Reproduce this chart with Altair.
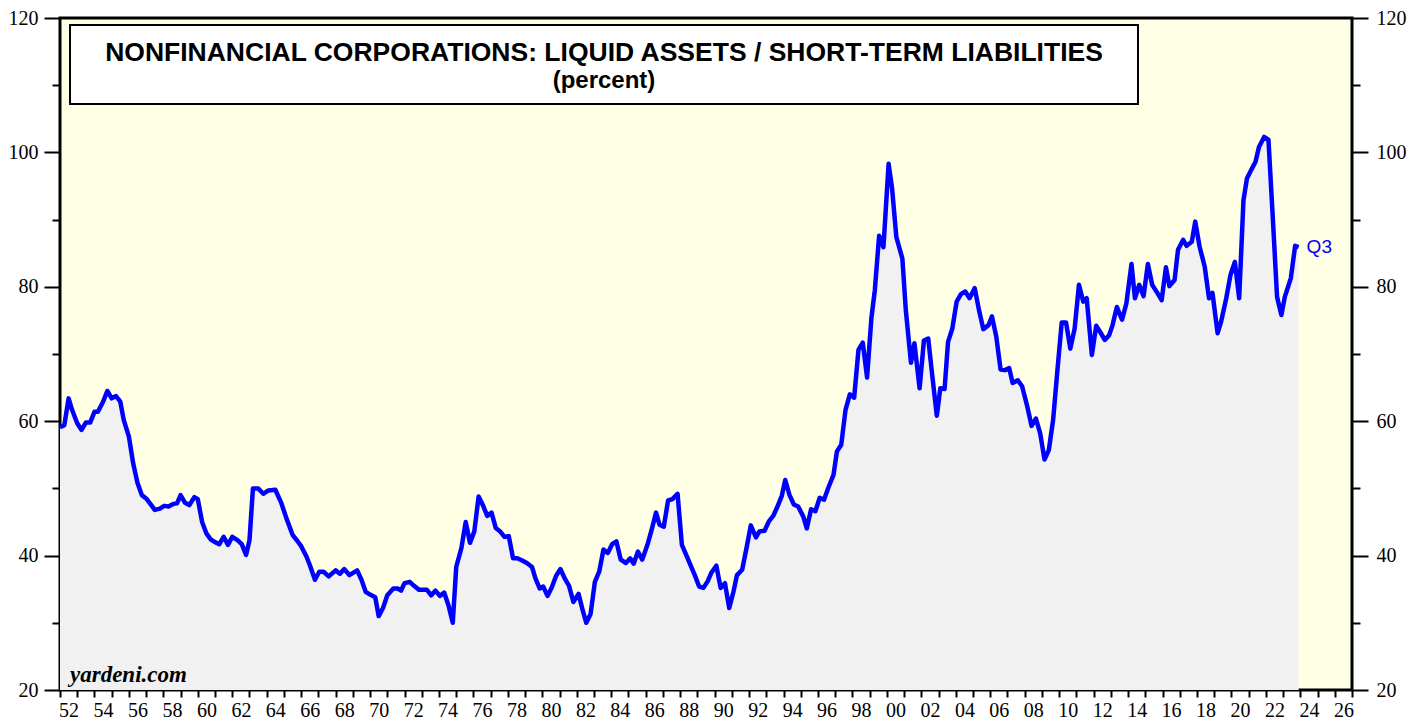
import altair as alt
import pandas as pd

years = [
    1952.0, 1952.25, 1952.5, 1952.7, 1953.0, 1953.25, 1953.5, 1953.75, 1954.0, 1954.2,
    1954.5, 1954.75, 1955.0, 1955.25, 1955.5, 1955.7, 1956.0, 1956.25, 1956.5, 1956.75,
    1957.0, 1957.3, 1957.5, 1957.8, 1958.05, 1958.3, 1958.6, 1958.8, 1959.0, 1959.25,
    1959.5, 1959.8, 1960.0, 1960.25, 1960.5, 1960.75, 1961.0, 1961.25, 1961.5, 1961.75,
    1962.0, 1962.3, 1962.55, 1962.8, 1963.0, 1963.2, 1963.5, 1963.8, 1964.1, 1964.5,
    1964.85, 1965.15, 1965.5, 1965.8, 1966.0, 1966.3, 1966.5, 1966.8, 1967.05, 1967.3,
    1967.6, 1968.0, 1968.25, 1968.5, 1968.8, 1969.25, 1969.5, 1969.75, 1970.0, 1970.3,
    1970.5, 1970.75, 1971.0, 1971.35, 1971.6, 1971.8, 1972.0, 1972.3, 1972.55, 1972.85,
    1973.3, 1973.55, 1973.8, 1974.05, 1974.3, 1974.55, 1974.8, 1975.0, 1975.3, 1975.55,
    1975.8, 1976.05, 1976.3, 1976.55, 1976.8, 1977.05, 1977.3, 1977.55, 1977.8, 1978.05,
    1978.3, 1978.55, 1978.8, 1979.1, 1979.4, 1979.6, 1979.85, 1980.05, 1980.3, 1980.55,
    1980.8, 1981.05, 1981.3, 1981.55, 1981.8, 1982.1, 1982.35, 1982.55, 1982.8, 1983.05,
    1983.3, 1983.55, 1983.8, 1984.05, 1984.3, 1984.55, 1984.85, 1985.1, 1985.3, 1985.55,
    1985.8, 1986.1, 1986.35, 1986.6, 1986.8, 1987.05, 1987.3, 1987.55, 1987.85, 1988.1,
    1988.4, 1988.65, 1988.85, 1989.1, 1989.35, 1989.6, 1989.8, 1990.1, 1990.35, 1990.6,
    1990.85, 1991.1, 1991.3, 1991.6, 1991.85, 1992.1, 1992.4, 1992.6, 1992.9, 1993.15,
    1993.4, 1993.65, 1993.9, 1994.1, 1994.35, 1994.6, 1994.85, 1995.15, 1995.35, 1995.6,
    1995.85, 1996.1, 1996.35, 1996.6, 1996.9, 1997.1, 1997.35, 1997.6, 1997.85, 1998.1,
    1998.35, 1998.6, 1998.85, 1999.1, 1999.3, 1999.55, 1999.8, 2000.1, 2000.3, 2000.55,
    2000.9, 2001.1, 2001.4, 2001.6, 2001.9, 2002.15, 2002.4, 2002.6, 2002.9, 2003.1,
    2003.35, 2003.55, 2003.8, 2004.05, 2004.3, 2004.55, 2004.8, 2005.1, 2005.35, 2005.6,
    2005.9, 2006.1, 2006.35, 2006.6, 2006.85, 2007.1, 2007.3, 2007.6, 2007.85, 2008.15,
    2008.4, 2008.65, 2008.9, 2009.15, 2009.4, 2009.65, 2009.9, 2010.15, 2010.4, 2010.65,
    2010.9, 2011.15, 2011.4, 2011.6, 2011.9, 2012.15, 2012.4, 2012.65, 2012.9, 2013.1,
    2013.35, 2013.65, 2013.9, 2014.2, 2014.4, 2014.65, 2014.9, 2015.15, 2015.4, 2015.7,
    2015.95, 2016.2, 2016.4, 2016.7, 2016.9, 2017.2, 2017.4, 2017.7, 2017.9, 2018.15,
    2018.45, 2018.7, 2018.9, 2019.2, 2019.4, 2019.7, 2019.95, 2020.2, 2020.45, 2020.7,
    2020.9, 2021.15, 2021.4, 2021.6, 2021.9, 2022.15, 2022.4, 2022.65, 2022.9, 2023.1,
    2023.45, 2023.7, 2023.9,
]
values = [
    59.1, 59.4, 63.4, 61.7, 59.7, 58.7, 59.8, 59.8, 61.4, 61.4,
    62.9, 64.5, 63.4, 63.75, 62.9, 60.2, 57.7, 53.7, 50.8, 49.0,
    48.5, 47.5, 46.8, 47.0, 47.4, 47.3, 47.7, 47.8, 49.0, 47.9,
    47.5, 48.7, 48.4, 45.0, 43.3, 42.4, 42.0, 41.7, 42.8, 41.6,
    42.8, 42.3, 41.7, 40.1, 42.3, 50.0, 50.0, 49.2, 49.7, 49.8,
    47.8, 45.5, 43.1, 42.1, 41.4, 39.9, 38.6, 36.4, 37.6, 37.6,
    36.9, 37.8, 37.3, 38.0, 37.1, 37.8, 36.4, 34.6, 34.2, 33.8,
    31.0, 32.2, 34.1, 35.1, 35.1, 34.8, 35.9, 36.1, 35.5, 34.9,
    34.9, 34.1, 34.8, 34.0, 34.5, 32.6, 30.0, 38.3, 41.1, 45.0,
    41.9, 43.6, 48.8, 47.5, 45.9, 46.4, 44.1, 43.6, 42.8, 42.9,
    39.6, 39.6, 39.3, 38.9, 38.3, 36.6, 35.1, 35.4, 34.0, 35.3,
    37.0, 38.0, 36.6, 35.5, 33.1, 34.3, 31.8, 30.0, 31.3, 36.1,
    37.6, 40.9, 40.4, 41.7, 42.1, 39.4, 38.9, 39.6, 38.8, 40.6,
    39.4, 41.6, 43.9, 46.4, 44.6, 44.3, 48.2, 48.4, 49.2, 41.6,
    39.8, 38.3, 37.1, 35.4, 35.2, 36.2, 37.4, 38.5, 35.2, 35.9,
    32.2, 34.7, 37.1, 37.9, 41.1, 44.5, 42.7, 43.6, 43.7, 45.1,
    45.9, 47.3, 48.9, 51.25, 49.0, 47.6, 47.3, 45.8, 44.05, 46.9,
    46.6, 48.6, 48.3, 50.1, 52.0, 55.5, 56.5, 61.7, 64.0, 63.5,
    70.6, 71.7, 66.5, 75.3, 79.5, 87.6, 85.9, 98.3, 94.7, 87.4,
    84.2, 76.5, 68.7, 71.6, 64.9, 72.0, 72.3, 67.6, 60.8, 64.9,
    64.8, 71.8, 73.8, 77.8, 78.9, 79.3, 78.3, 79.8, 76.5, 73.7,
    74.3, 75.6, 72.6, 67.7, 67.6, 67.9, 65.7, 66.1, 65.2, 62.2,
    59.3, 60.4, 58.2, 54.3, 55.7, 60.2, 67.6, 74.7, 74.7, 70.8,
    73.8, 80.3, 77.8, 78.3, 69.85, 74.2, 73.2, 72.1, 72.8, 74.3,
    77.0, 75.1, 77.5, 83.4, 78.3, 80.3, 78.6, 83.4, 80.3, 79.1,
    78.0, 82.9, 80.1, 81.0, 85.5, 87.0, 86.1, 86.7, 89.7, 86.0,
    83.0, 78.3, 79.1, 73.1, 74.8, 78.3, 81.8, 83.7, 78.3, 92.9,
    96.1, 97.4, 98.6, 100.8, 102.3, 101.9, 90.4, 78.5, 75.8, 78.5,
    81.3, 86.1, 85.9,
]

title_line1 = "NONFINANCIAL CORPORATIONS: LIQUID ASSETS / SHORT-TERM LIABILITIES"
title_line2 = "(percent)"
source_text = "yardeni.com"
last_label = "Q3"

x_domain = [1952, 2027]
y_domain = [20, 120]
tick_years = list(range(1952, 2028))
label_years = [y + 0.5 for y in range(1952, 2027, 2)]
y_ticks = list(range(20, 121, 10))

df = pd.DataFrame({"year": years, "value": values})
last_df = df.tail(1)
one = pd.DataFrame({"k": [0]})

SERIF = "Liberation Serif"
SANS = "Liberation Sans"

x_axis = alt.Axis(
    values=tick_years + label_years,
    title=None, grid=False, domain=False,
    tickColor="black", tickWidth=2, tickSize=7,
    tickOpacity={"condition": {"test": "datum.value % 1 == 0", "value": 1}, "value": 0},
    labelExpr="datum.value % 1 != 0 ? slice('0' + (floor(datum.value) % 100), -2) : ''",
    labelFont=SERIF, labelFontSize=20, labelColor="black", labelPadding=3,
    labelOverlap=False, labelFlush=False, labelBound=False,
)
x_enc = alt.X("year:Q", scale=alt.Scale(domain=x_domain, nice=False, zero=False), axis=x_axis)


def y_axis(orient, pad):
    return alt.Axis(
        orient=orient, values=y_ticks, title=None, grid=False, domain=False,
        tickColor="black", tickWidth=2, tickSize=16,
        tickDash={"condition": {"test": "datum.value % 20 != 0", "value": [8, 40]}, "value": [40, 0]},
        labelExpr="datum.value % 20 == 0 ? datum.label : ''",
        labelFont=SERIF, labelFontSize=20, labelColor="black", labelPadding=pad,
        labelOverlap=False, labelFlush=False, labelBound=False,
    )


y_scale = alt.Scale(domain=y_domain, nice=False, zero=False)

area = alt.Chart(df).mark_area(color="#F1F1F1").encode(
    x=x_enc,
    y=alt.Y("value:Q", scale=y_scale, axis=y_axis("left", 6)),
    y2=alt.datum(20),
)

line = alt.Chart(df).mark_line(color="#0000FF", strokeWidth=4.5, strokeJoin="round").encode(
    x=x_enc,
    y=alt.Y("value:Q", scale=y_scale, axis=y_axis("right", 8)),
)

q3 = alt.Chart(last_df).mark_text(
    align="left", baseline="middle", dx=8, font=SANS, fontSize=19, color="#0000FF"
).encode(
    x=x_enc,
    y=alt.Y("value:Q", scale=y_scale, axis=None),
    text=alt.value(last_label),
)

box = alt.Chart(one).mark_rect(fill="white", stroke="black", strokeWidth=2).encode(
    x=alt.value(10), x2=alt.value(1078), y=alt.value(7), y2=alt.value(86)
)

t1 = alt.Chart(one).mark_text(
    align="center", baseline="alphabetic", font=SANS, fontSize=26.5, fontWeight="bold", color="black"
).encode(x=alt.value(544), y=alt.value(43), text=alt.value(title_line1))

t2 = alt.Chart(one).mark_text(
    align="center", baseline="alphabetic", font=SANS, fontSize=24, fontWeight="bold", color="black"
).encode(x=alt.value(544), y=alt.value(70), text=alt.value(title_line2))

src = alt.Chart(one).mark_text(
    align="left", baseline="alphabetic", font=SERIF, fontSize=23, fontWeight="bold",
    fontStyle="italic", color="black"
).encode(x=alt.value(10), y=alt.value(664), text=alt.value(source_text))

chart = alt.layer(area, line, q3, box, t1, t2, src).resolve_scale(
    y="independent"
).properties(
    width=1292, height=672,
    padding={"left": 52, "top": 10, "right": 66, "bottom": 31},
    autosize=alt.AutoSizeParams(type="none"),
    background="white",
).configure_view(
    fill="#FFFFE6", stroke="black", strokeWidth=3
)

chart.save("out.html", embed_options={"renderer": "svg", "actions": False})
